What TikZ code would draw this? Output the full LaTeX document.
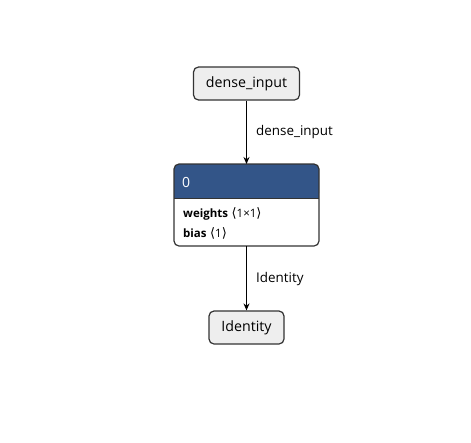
\documentclass[tikz,border=0pt]{standalone}
\usepackage{fontspec}
\setmainfont{Open Sans}
\newfontfamily\symfont{DejaVu Sans}
\usetikzlibrary{arrows.meta}
\definecolor{hdr}{RGB}{51,85,136}
\definecolor{boxfill}{RGB}{238,238,238}
\definecolor{boxline}{RGB}{51,51,51}
\newcommand{\lbr}{{\hspace{3.5pt}\symfont\fontsize{13}{14}\selectfont⟨}}
\newcommand{\rbr}{{\symfont\fontsize{13}{14}\selectfont⟩}}
\begin{document}
\begin{tikzpicture}[x=1pt,y=-1pt,
  term/.style={draw=boxline,fill=boxfill,rounded corners=5pt,line width=1.2pt,font=\fontsize{14.2}{16}\selectfont,inner sep=0pt},
  edgelab/.style={font=\fontsize{13.4}{15}\selectfont,anchor=west,inner sep=0pt},
  conn/.style={-{Stealth[length=7pt,width=6pt]},line width=1.6pt,black}]
\useasboundingbox (0,0) rectangle (471,442);
\node[term,minimum width=106pt,minimum height=33pt] (inp) at (246.5,83.5) {dense\_input};
% block 0
\coordinate (btop) at (246.5,164);
\fill[hdr,rounded corners=5pt] (174,164) rectangle (319,198) ;
\fill[hdr] (174,188) rectangle (319,198);
\draw[boxline,line width=1.2pt,rounded corners=5pt] (174,164) rectangle (319,246);
\draw[boxline,line width=1pt] (174,198) -- (319,198);
\node[anchor=west,text=white,inner sep=0pt,font=\fontsize{14}{16}\selectfont] (h0) at (182,182) {0};
\node[anchor=west,inner sep=0pt,font=\fontsize{11.5}{13}\selectfont] (w) at (183,213.5) {\textbf{weights}\lbr1×1\rbr};
\node[anchor=west,inner sep=0pt,font=\fontsize{11.5}{13}\selectfont] (b) at (183,233) {\textbf{bias}\lbr1\rbr};
\coordinate (bbot) at (246.5,246);
\node[term,minimum width=75pt,minimum height=33pt] (out) at (246.5,327.5) {Identity};
\draw[conn] (inp.south) -- (btop);
\draw[conn] (bbot) -- (out.north);
\node[edgelab] (l1) at (256,132) {dense\_input};
\node[edgelab] (l2) at (256,279) {Identity};
\end{tikzpicture}
\end{document}
